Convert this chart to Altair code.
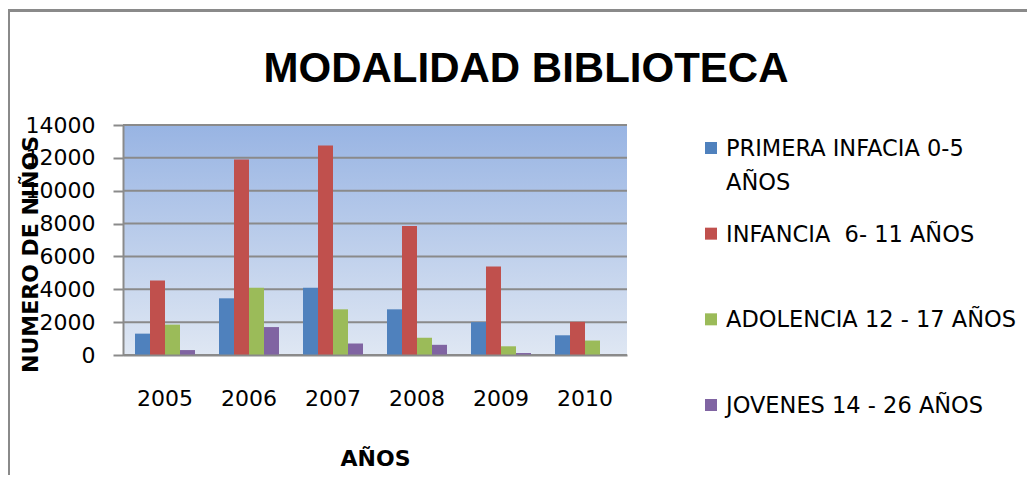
import altair as alt
import pandas as pd

# ---- data ----
years = ["2005", "2006", "2007", "2008", "2009", "2010"]
series = [
    "PRIMERA INFACIA 0-5 AÑOS",
    "INFANCIA\u00a0 6- 11 AÑOS",
    "ADOLENCIA 12 - 17 AÑOS",
    "JOVENES 14 - 26 AÑOS",
]
legend_text = [
    "PRIMERA INFACIA 0-5\nAÑOS",
    "INFANCIA\u00a0 6- 11 AÑOS",
    "ADOLENCIA 12 - 17 AÑOS",
    "JOVENES 14 - 26 AÑOS",
]
primera = [1300, 3450, 4100, 2780, 2000, 1200]
infancia = [4530, 11900, 12750, 7850, 5380, 2020]
adolencia = [1850, 4100, 2780, 1050, 530, 880]
jovenes = [300, 1700, 700, 620, 120, 0]
y_ticks = [0, 2000, 4000, 6000, 8000, 10000, 12000, 14000]
colors = ["#4F81BD", "#C0504D", "#9BBB59", "#8064A2"]

W, H = 504, 230
GRAY = "#8a8a8a"
FONT = "DejaVu Sans"

rows = []
for s, vals in zip(series, [primera, infancia, adolencia, jovenes]):
    for yr, v in zip(years, vals):
        rows.append({"year": yr, "series": s, "value": v})
df = pd.DataFrame(rows)
grid_df = pd.DataFrame({"tick": y_ticks})
leg_df = pd.DataFrame({"series": series, "label": legend_text})

color_scale = alt.Scale(domain=series, range=colors)

bg = alt.Chart(pd.DataFrame({"a": [0]})).mark_rect(
    color=alt.LinearGradient(
        gradient="linear",
        stops=[alt.GradientStop(color="#98B4E3", offset=0),
               alt.GradientStop(color="#DFE7F3", offset=1)],
        x1=0, x2=0, y1=0, y2=1,
    )
).encode(x=alt.value(0), x2=alt.value(W), y=alt.value(0), y2=alt.value(H))

border = alt.Chart(pd.DataFrame({"a": [0]})).mark_rect(
    fill="transparent", stroke=GRAY, strokeWidth=3
).encode(x=alt.value(-114.5), x2=alt.value(W + 600), y=alt.value(-114.5), y2=alt.value(H + 300))

yscale = alt.Scale(domain=[0, 14000], nice=False)

grid = alt.Chart(grid_df).mark_rule(color=GRAY, strokeWidth=2).encode(
    y=alt.Y("tick:Q", scale=yscale, axis=None),
    x=alt.value(0), x2=alt.value(W),
)

bars = alt.Chart(df).mark_bar().encode(
    x=alt.X(
        "year:N", sort=years,
        scale=alt.Scale(paddingInner=0.2857, paddingOuter=0.1429),
        axis=alt.Axis(
            title="AÑOS", labelAngle=0, ticks=False,
            labelFont=FONT, labelFontSize=22, labelColor="#000", labelPadding=33,
            domainColor=GRAY, domainWidth=2,
            titleFont=FONT, titleFontSize=22, titleFontWeight="bold", titleColor="#000",
            titleY=103, titleBaseline="middle", zindex=1,
        ),
    ),
    xOffset=alt.XOffset("series:N", sort=series, scale=alt.Scale(domain=series)),
    y=alt.Y(
        "value:Q", scale=yscale,
        axis=alt.Axis(
            values=y_ticks, format="d", grid=False, title="NUMERO DE NIÑOS",
            tickSize=10, tickColor=GRAY, tickWidth=2,
            domainColor=GRAY, domainWidth=2,
            labelFont=FONT, labelFontSize=22, labelColor="#000", labelPadding=18,
            labelOverlap=False,
            titleFont=FONT, titleFontSize=22, titleFontWeight="bold", titleColor="#000",
            titleAngle=270, titleX=-93, titleY=129, titleAlign="center", titleBaseline="middle",
            zindex=1,
        ),
    ),
    color=alt.Color("series:N", scale=color_scale, legend=None),
)

leg_y = alt.Y("series:N", sort=series,
              scale=alt.Scale(domain=series, range=[23, 280], padding=0), axis=None)

leg_sq = alt.Chart(leg_df).mark_square(size=144, opacity=1).encode(
    x=alt.value(588), y=leg_y,
    color=alt.Color("series:N", scale=color_scale, legend=None),
)
leg_tx = alt.Chart(leg_df).mark_text(
    align="left", baseline="alphabetic", dy=8, font=FONT, fontSize=22.5,
    lineBreak="\n", lineHeight=34, color="#000",
).encode(x=alt.value(603), y=leg_y, text="label:N")

chart = alt.layer(border, bg, grid, bars, leg_sq, leg_tx).resolve_scale(
    y="independent"
).properties(
    width=W, height=H,
    title=alt.TitleParams(
        "MODALIDAD BIBLIOTECA", font="Liberation Sans", fontSize=42, fontWeight="bold",
        color="#000", anchor="middle", baseline="alphabetic", dx=151, dy=115, offset=0,
    ),
    autosize=alt.AutoSizeParams(type="none"),
    padding={"left": 115, "top": 117, "right": 400, "bottom": 120},
).configure_view(stroke=None)

chart.save("out.html", embed_options={"renderer": "svg", "actions": False})
